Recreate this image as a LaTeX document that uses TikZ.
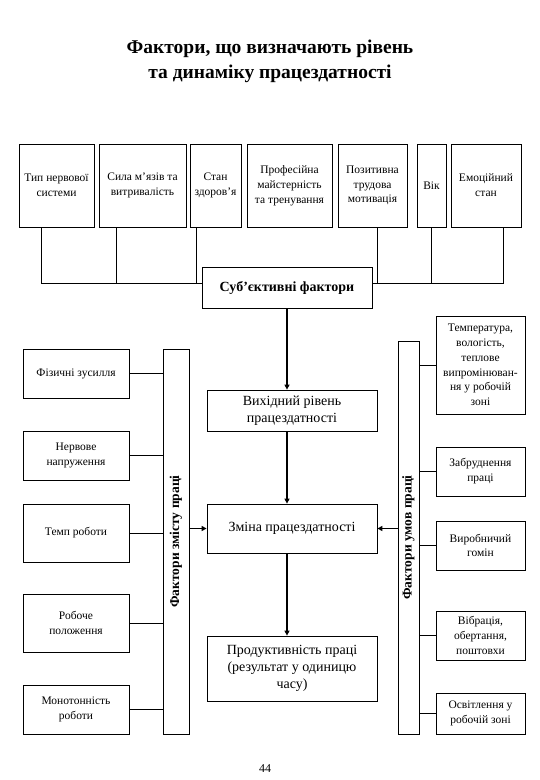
\documentclass[tikz,border=0pt]{standalone}
\usepackage{fontspec}
\setmainfont{Liberation Serif}
\usetikzlibrary{arrows.meta, calc}

\begin{document}
\begin{tikzpicture}[
  x=1pt, y=-1pt,
  box/.style={rectangle, draw=black, line width=0.8pt, align=center, inner sep=1pt,
              font=\fontsize{11.5}{14.8}\selectfont},
  mainbox/.style={box, font=\fontsize{14}{16.8}\selectfont},
  bar/.style={rectangle, draw=black, line width=0.8pt, inner sep=0pt},
  bartext/.style={rotate=90, font=\bfseries\fontsize{13.5}{14}\selectfont},
  link/.style={line width=0.8pt},
  arrow/.style={-{Triangle[length=5pt, width=5pt]}, line width=1.6pt}
]
\useasboundingbox (0,0) rectangle (540,780);

\node[font=\bfseries\fontsize{19.5}{25}\selectfont, align=center] (title) at (270,61)
  {Фактори, що визначають рівень\\та динаміку працездатності};

\node[box, minimum width=75, minimum height=83] (t1) at (56.5,185.5) {Тип нервової\\системи};
\node[box, minimum width=87, minimum height=83] (t2) at (142.5,185.5) {Сила м'язів та\\витривалість};
\node[box, minimum width=51, minimum height=83] (t3) at (215.5,185.5) {Стан\\здоров'я};
\node[box, minimum width=85, minimum height=83] (t4) at (289.5,185.5) {Професійна\\майстерність\\та тренування};
\node[box, minimum width=69, minimum height=83] (t5) at (372.5,185.5) {Позитивна\\трудова\\мотивація};
\node[box, minimum width=29, minimum height=83] (t6) at (431.5,185.5) {Вік};
\node[box, minimum width=70, minimum height=83] (t7) at (486,185.5) {Емоційний\\стан};

\node[box, minimum width=170, minimum height=41, font=\bfseries\fontsize{14}{16}\selectfont]
  (subj) at (287,287.5) {Суб'єктивні фактори};

\coordinate (bus) at (0,283);
\draw[link] ($(t1.south)+(-15.5,0)$) |- (subj.west |- bus);
\draw[link] ($(t2.south)+(-26.5,0)$) coordinate (d2) -- (d2 |- bus);
\draw[link] ($(t3.south)+(-19.5,0)$) coordinate (d3) -- (d3 |- bus);
\draw[link] ($(t7.south)+(17,0)$) |- (subj.east |- bus);
\draw[link] ($(t5.south)+(4.5,0)$) coordinate (d5) -- (d5 |- bus);
\draw[link] (t6.south) -- (t6.south |- bus);

\node[mainbox, minimum width=170, minimum height=41] (start) at (292,410.5) {Вихідний рівень\\працездатності};
\node[mainbox, minimum width=170, minimum height=49] (change) at (292,528.5) {Зміна працездатності};
\node[mainbox, minimum width=170, minimum height=65] (result) at (292,668.5)
  {Продуктивність праці\\(результат у одиницю\\часу)};

\draw[arrow] (subj.south) -- (subj.south |- start.north);
\draw[arrow] (start.south -| subj.south) -- (change.north -| subj.south);
\draw[arrow] (change.south -| subj.south) -- (result.north -| subj.south);

\node[bar, minimum width=26, minimum height=385] (lbar) at (176,541.5) {};
\node[bartext] (lbarlabel) at (lbar.center) {Фактори змісту праці};
\node[bar, minimum width=21, minimum height=393] (rbar) at (408.5,537.5) {};
\node[bartext] (rbarlabel) at (rbar.center) {Фактори умов праці};

\node[box, minimum width=106, minimum height=49] (l1) at (76,373.5) {Фізичні зусилля};
\node[box, minimum width=106, minimum height=49] (l2) at (76,455.5) {Нервове\\напруження};
\node[box, minimum width=106, minimum height=58] (l3) at (76,533) {Темп роботи};
\node[box, minimum width=106, minimum height=58] (l4) at (76,623) {Робоче\\положення};
\node[box, minimum width=106, minimum height=49] (l5) at (76,709.5) {Монотонність\\роботи};

\node[box, minimum width=89, minimum height=98] (r1) at (480.5,365) {Температура,\\вологість,\\теплове\\випромінюван-\\ня у робочій\\зоні};
\node[box, minimum width=89, minimum height=49] (r2) at (480.5,471.5) {Забруднення\\праці};
\node[box, minimum width=89, minimum height=49] (r3) at (480.5,545.5) {Виробничий\\гомін};
\node[box, minimum width=89, minimum height=49] (r4) at (480.5,635.5) {Вібрація,\\обертання,\\поштовхи};
\node[box, minimum width=89, minimum height=41] (r5) at (480.5,713.5) {Освітлення у\\робочій зоні};

\foreach \n in {l1,l2,l3,l4,l5}
  \draw[link] (\n.east) -- (\n.east -| lbar.west);
\foreach \n in {r1,r2,r3,r4,r5}
  \draw[link] (\n.west) -- (\n.west -| rbar.east);

\draw[arrow] (lbar.east |- change) -- (change.west);
\draw[arrow] (rbar.west |- change) -- (change.east);

\node[font=\fontsize{12}{14}\selectfont] (page) at (265,769) {44};
\end{tikzpicture}
\end{document}
